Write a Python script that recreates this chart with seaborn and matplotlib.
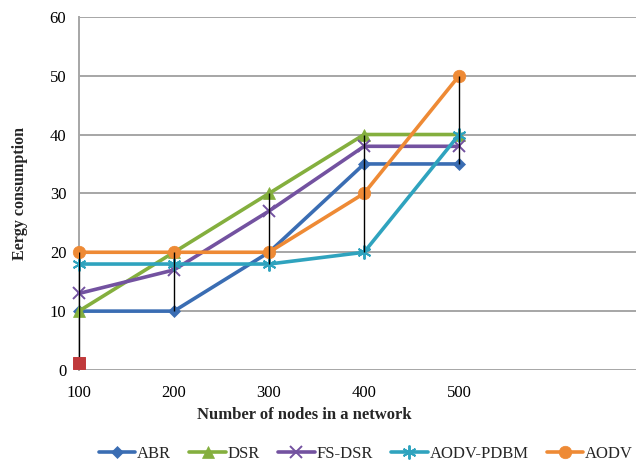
import numpy as np
import pandas as pd
import matplotlib
matplotlib.use("Agg")
import matplotlib.pyplot as plt
import seaborn as sns

nodes = [100, 200, 300, 400, 500]
abr = [10, 10, 20, 35, 35]
dsr = [10, 20, 30, 40, 40]
fs_dsr = [13, 17, 27, 38, 38]
aodv_pdbm = [18, 18, 18, 20, 40]
aodv = [20, 20, 20, 30, 50]
extra_x = [100]
extra_y = [1.2]

series_names = ["ABR", "DSR", "FS-DSR", "AODV-PDBM", "AODV"]
series_vals = [abr, dsr, fs_dsr, aodv_pdbm, aodv]
colors = ["#3A6DB3", "#84AF3E", "#7352A0", "#2FA3BE", "#EE8A35"]
markers = ["D", "^", "x", (6, 2, 0), "o"]
msizes = [6, 8, 9, 10, 9]

sns.set_theme(style="white")
plt.rcParams["font.family"] = ["Liberation Serif", "DejaVu Serif"]

df = pd.DataFrame({
    "nodes": np.tile(nodes, len(series_names)),
    "energy": np.concatenate(series_vals),
    "protocol": np.repeat(series_names, len(nodes)),
})

fig = plt.figure(figsize=(6.36, 4.66), dpi=100)
ax = fig.add_axes([0.124, 0.206, 0.876, 0.758])

# high-low lines across all series at each node count
all_vals = np.array(series_vals)
lows = all_vals.min(axis=0).astype(float)
highs = all_vals.max(axis=0).astype(float)
for xv, yv in zip(extra_x, extra_y):
    i = nodes.index(xv)
    lows[i] = min(lows[i], yv)
ax.vlines(nodes, lows, highs, colors="black", linewidth=1.0, zorder=5)

for name, col, mk, ms in zip(series_names, colors, markers, msizes):
    sub = df[df["protocol"] == name]
    sns.lineplot(data=sub, x="nodes", y="energy", ax=ax, color=col,
                 linewidth=2.6, marker=mk, markersize=ms,
                 markeredgecolor=col, markeredgewidth=1.4 if mk in ("x", (6, 2, 0)) else 0.5,
                 label=name, zorder=3, clip_on=False)

sns.scatterplot(x=extra_x, y=extra_y, ax=ax, marker="s", s=75, color="#C0393B",
                edgecolor="#C0393B", legend=False, zorder=6, clip_on=False)

ax.set_xlim(100, 686)
ax.set_ylim(0, 60)
ax.set_xticks(nodes)
ax.set_yticks(range(0, 61, 10))
ax.tick_params(axis="both", length=0, labelsize=12, colors="black")
ax.tick_params(axis="x", pad=11)
ax.tick_params(axis="y", pad=9)
ax.grid(axis="y", color="#A6A6A6", linewidth=1.4)
ax.grid(axis="x", visible=False)
for s in ["top", "right", "bottom"]:
    ax.spines[s].set_visible(False)
ax.spines["left"].set_color("#A6A6A6")
ax.spines["left"].set_linewidth(1.4)
ax.set_axisbelow(True)

ax.set_xlabel("Number of nodes in a network", fontsize=12, fontweight="bold")
ax.xaxis.set_label_coords(0.404, -0.104)
ax.set_ylabel("Eergy consumption", fontsize=11.5, fontweight="bold", labelpad=16)

handles, labels = ax.get_legend_handles_labels()
ax.legend(handles, labels, loc="center", bbox_to_anchor=(0.515, -0.238), ncol=5,
          frameon=False, fontsize=12, handlelength=2.2, handletextpad=0.1,
          columnspacing=1.1)

fig.savefig("out.png", dpi=100)
